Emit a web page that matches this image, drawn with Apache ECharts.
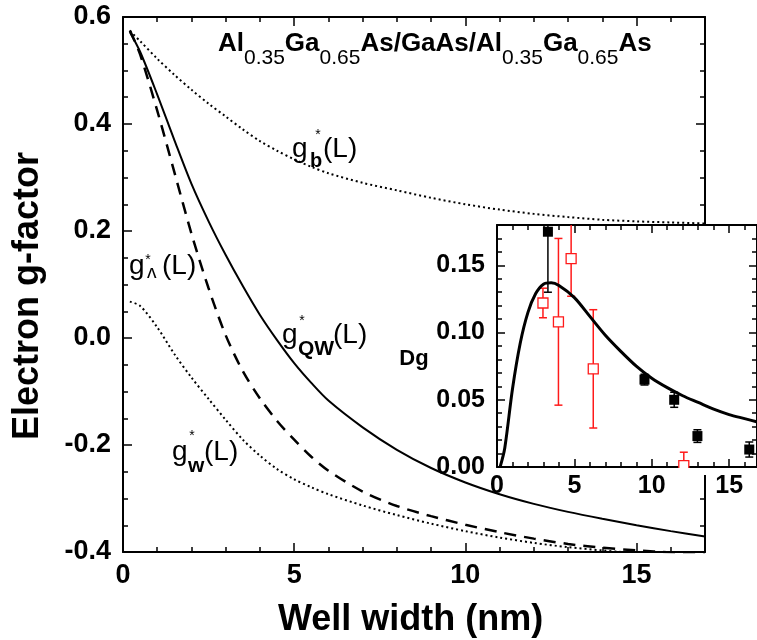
<!DOCTYPE html>
<html><head><meta charset="utf-8">
<script src="https://cdn.jsdelivr.net/npm/echarts@6/dist/echarts.min.js"></script>
<style>html,body{margin:0;padding:0;background:#fff}#c{width:757px;height:640px}</style>
</head><body><div id="c"></div>
<script>
// ---------- data ----------
const wellWidth = [0.2, 0.5, 1, 1.5, 2, 2.5, 3, 3.5, 4, 4.5, 5, 5.5, 6, 7, 8, 9, 10, 11, 12, 13, 14, 15, 16, 17];
const gBarrier  = [0.574, 0.555, 0.522, 0.492, 0.464, 0.438, 0.414, 0.390, 0.368, 0.350, 0.334, 0.320, 0.308, 0.290, 0.276, 0.262, 0.250, 0.240, 0.232, 0.226, 0.221, 0.218, 0.216, 0.214];
const gQW       = [0.572, 0.535, 0.455, 0.370, 0.288, 0.218, 0.155, 0.097, 0.043, -0.004, -0.047, -0.084, -0.117, -0.167, -0.209, -0.243, -0.270, -0.292, -0.310, -0.325, -0.338, -0.350, -0.361, -0.371];
const gLambda   = [0.575, 0.530, 0.425, 0.310, 0.195, 0.093, 0.005, -0.062, -0.113, -0.155, -0.190, -0.222, -0.248, -0.287, -0.314, -0.333, -0.349, -0.363, -0.375, -0.385, -0.392, -0.397, -0.401, -0.404];
const gWell     = [0.068, 0.060, 0.020, -0.030, -0.074, -0.114, -0.153, -0.190, -0.220, -0.245, -0.264, -0.279, -0.292, -0.313, -0.331, -0.347, -0.361, -0.373, -0.383, -0.391, -0.397, -0.402, -0.406, -0.409];

const insetL    = [0.2, 0.5, 1, 1.5, 2, 2.5, 3, 3.5, 4, 5, 6, 7, 8, 9, 10, 11, 12, 13, 14, 15, 16, 17];
const insetDg   = [0.0, 0.014, 0.058, 0.092, 0.115, 0.129, 0.136, 0.137, 0.135, 0.126, 0.112, 0.098, 0.086, 0.075, 0.066, 0.059, 0.053, 0.048, 0.043, 0.039, 0.036, 0.033];

const blackX   = [3.29, 9.53, 11.45, 12.95, 16.3];
const blackY   = [0.175, 0.065, 0.050, 0.023, 0.013];
const blackErr = [0.045, 0.004, 0.0056, 0.0047, 0.0056];

const redX   = [2.97, 3.97, 4.79, 6.22, 12.07];
const redY   = [0.122, 0.108, 0.155, 0.073, 0.001];
const redErr = [0.011, 0.062, 0.028, 0.044, 0.010];

const mainXTicks = ['0', '5', '10', '15'];
const mainYTicks = ['-0.4', '-0.2', '0.0', '0.2', '0.4', '0.6'];
const insetXTicks = ['0', '5', '10', '15'];
const insetYTicks = ['0.00', '0.05', '0.10', '0.15'];

// ---------- layout / style ----------
const FONT = 'Liberation Sans, Arial, Helvetica, sans-serif';
const MAIN = {left: 123, top: 17, right: 52, bottom: 88};
const INSET = {left: 497, top: 225, right: -2, bottom: 173};
const MAIN_X = [0, 17], MAIN_Y = [-0.4, 0.6];
const INSET_X = [0, 16.8], INSET_Y = [0, 0.18];

function axis(gridIndex, position, ext, interval, tickLen, line, label, z) {
  return {
    type: 'value', gridIndex, position, min: ext[0], max: ext[1], interval, z: z || 0,
    splitLine: {show: false},
    axisLine: {show: line, onZero: false, lineStyle: {color: '#000', width: 2}},
    axisTick: {show: true, inside: true, length: tickLen, lineStyle: {color: '#000', width: 1.5}},
    axisLabel: label ? Object.assign({color: '#000', fontFamily: FONT, fontWeight: 'bold'}, label) : {show: false}
  };
}
const lbl = (arr, step, min) => (v) => {
  const i = Math.round((v - min) / step);
  return arr[i] !== undefined ? arr[i] : '';
};

const xAxes = [
  axis(0, 'bottom', MAIN_X, 5, 9, true, {fontSize: 27, margin: 10, showMaxLabel: false, formatter: lbl(mainXTicks, 5, 0)}),
  axis(0, 'top', MAIN_X, 5, 9, true, null),
  axis(1, 'bottom', MAIN_X, 1, 5, false, null),
  axis(1, 'top', MAIN_X, 1, 5, false, null),
  axis(2, 'bottom', INSET_X, 5, 8, true, {fontSize: 25, margin: 7, showMaxLabel: false, formatter: lbl(insetXTicks, 5, 0)}, 5),
  axis(2, 'top', INSET_X, 5, 8, true, null, 5),
  axis(3, 'bottom', INSET_X, 1, 5, false, null, 5),
  axis(3, 'top', INSET_X, 1, 5, false, null, 5)
];
const yAxes = [
  axis(0, 'left', MAIN_Y, 0.2, 9, true, {fontSize: 27, margin: 12, formatter: lbl(mainYTicks, 0.2, -0.4)}),
  axis(0, 'right', MAIN_Y, 0.2, 9, true, null),
  axis(1, 'left', MAIN_Y, 0.05, 5, false, null),
  axis(1, 'right', MAIN_Y, 0.05, 5, false, null),
  axis(2, 'left', INSET_Y, 0.05, 8, true, {fontSize: 25, margin: 12, showMaxLabel: false, formatter: lbl(insetYTicks, 0.05, 0)}, 5),
  axis(2, 'right', INSET_Y, 0.05, 8, true, null, 5),
  axis(3, 'left', INSET_Y, 0.01, 5, false, null, 5),
  axis(3, 'right', INSET_Y, 0.01, 5, false, null, 5)
];

function lineSeries(xs, ys, type, width, xi, yi, z) {
  return {
    type: 'line', xAxisIndex: xi, yAxisIndex: yi, z: z || 2,
    data: xs.map((x, i) => [x, ys[i]]),
    showSymbol: false, symbol: 'none', smooth: 0.3, clip: true, silent: true,
    lineStyle: {color: '#000', width, type}
  };
}
const dotted = [2, 3];

function errSeries(xs, ys, es, color) {
  return {
    type: 'custom', xAxisIndex: 4, yAxisIndex: 4, z: 6, silent: true, clip: true,
    data: xs.map((x, i) => [x, ys[i], es[i]]),
    renderItem: function (params, api) {
      const x = api.value(0), y = api.value(1), e = api.value(2);
      const hiV = Math.min(y + e, INSET_Y[1]), loV = Math.max(y - e, INSET_Y[0]);
      const hi = api.coord([x, hiV]), lo = api.coord([x, loV]);
      const st = {stroke: color, lineWidth: 1.5};
      const kids = [{type: 'line', shape: {x1: hi[0], y1: hi[1], x2: lo[0], y2: lo[1]}, style: st}];
      if (y + e <= INSET_Y[1]) kids.push({type: 'line', shape: {x1: hi[0] - 4, y1: hi[1], x2: hi[0] + 4, y2: hi[1]}, style: st});
      if (y - e >= INSET_Y[0]) kids.push({type: 'line', shape: {x1: lo[0] - 4, y1: lo[1], x2: lo[0] + 4, y2: lo[1]}, style: st});
      return {type: 'group', children: kids};
    }
  };
}

const series = [
  lineSeries(wellWidth, gBarrier, dotted, 2, 0, 0),
  lineSeries(wellWidth, gQW, 'solid', 2, 0, 0),
  lineSeries(wellWidth, gLambda, [12, 8], 2.5, 0, 0),
  lineSeries(wellWidth, gWell, dotted, 2, 0, 0),
  lineSeries(insetL, insetDg, 'solid', 3, 4, 4, 6),
  errSeries(redX, redY, redErr, '#ff1a1a'),
  errSeries(blackX, blackY, blackErr, '#000'),
  {type: 'scatter', xAxisIndex: 4, yAxisIndex: 4, z: 7, silent: true, symbol: 'rect', symbolSize: 10,
   data: redX.map((x, i) => [x, redY[i]]),
   itemStyle: {color: '#fff', borderColor: '#ff1a1a', borderWidth: 1.3, opacity: 1}},
  {type: 'scatter', xAxisIndex: 4, yAxisIndex: 4, z: 7, silent: true, symbol: 'rect', symbolSize: 10,
   data: blackX.map((x, i) => [x, blackY[i]]),
   itemStyle: {color: '#000', opacity: 1}}
];

// ---------- text annotations ----------
function txt(x, baseline, text, size, weight, align) {
  return {type: 'text', x: x, y: baseline - 0.3465 * size, z: 20, silent: true,
    style: {text, fontSize: size, fontFamily: FONT, fontWeight: weight || 'normal', fill: '#000',
            align: align || 'left', verticalAlign: 'middle'}};
}
function star(cx, cy) { return txt(cx, cy + 0.575 * 14, '*', 14, 'normal', 'center'); }
function curveLabel(x0, base, sub, subX, subBase, subSize, subWeight, starX, starY, parenX) {
  return [
    txt(x0, base, 'g', 28),
    txt(subX, subBase, sub, subSize, subWeight),
    star(starX, starY),
    txt(parenX, base, '(L)', 28)
  ];
}

const graphics = [
  {type: 'rect', z: 3, silent: true,
   shape: {x: INSET.left, y: INSET.top, width: 757 - INSET.right - INSET.left, height: 640 - INSET.bottom - INSET.top},
   style: {fill: '#fff', stroke: null}},
  {type: 'rect', z: 8, silent: true,
   shape: {x: INSET.left + 2, y: 640 - INSET.bottom + 1, width: 757 - INSET.right - INSET.left, height: 7},
   style: {fill: '#fff', stroke: null}},
  {type: 'text', x: 218, y: 31, z: 20, silent: true,
   style: {
     text: '{b|Al}{s|0.35}{b|Ga}{s|0.65}{b|As/GaAs/Al}{s|0.35}{b|Ga}{s|0.65}{b|As}',
     fontFamily: FONT, fill: '#000', align: 'left', verticalAlign: 'top',
     rich: {
       b: {fontSize: 26, fontWeight: 'bold', fontFamily: FONT, lineHeight: 30, verticalAlign: 'top', fill: '#000'},
       s: {fontSize: 21, fontWeight: 'normal', fontFamily: FONT, lineHeight: 24, verticalAlign: 'top', padding: [17, 0, 0, 0], fill: '#000'}
     }
   }},
  ...curveLabel(292, 159, 'b', 310, 168, 20, 'bold', 318, 132, 323),
  ...curveLabel(282, 345, 'QW', 298, 356, 21, 'bold', 302, 318, 333),
  ...curveLabel(129, 276, 'ʌ', 147, 279, 19, 'normal', 148, 257, 162),
  ...curveLabel(172, 462, 'w', 188, 473, 21, 'bold', 192, 433, 204),
  txt(414, 367, 'Dg', 22, 'bold', 'center'),
  txt(278, 633, 'Well width (nm)', 36, 'bold', 'left'),
  {type: 'text', x: 28, y: 296, rotation: Math.PI / 2, z: 20, silent: true,
   style: {text: 'Electron g-factor', fontSize: 36, fontWeight: 'bold', fontFamily: FONT, fill: '#000',
           align: 'center', verticalAlign: 'middle'}}
];

const chart = echarts.init(document.getElementById('c'), null, {renderer: 'canvas'});
chart.setOption({
  animation: false,
  backgroundColor: '#fff',
  grid: [
    Object.assign({show: false, containLabel: false}, MAIN),
    Object.assign({show: false, containLabel: false}, MAIN),
    Object.assign({show: false, containLabel: false}, INSET),
    Object.assign({show: false, containLabel: false}, INSET)
  ],
  xAxis: xAxes,
  yAxis: yAxes,
  series: series,
  graphic: graphics
});
</script></body></html>
